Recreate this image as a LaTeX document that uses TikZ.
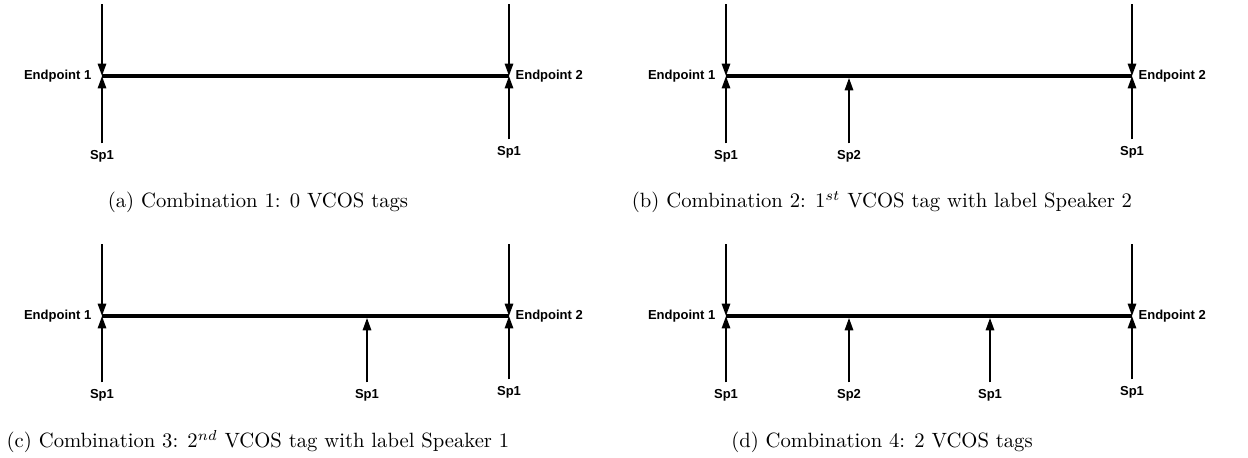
\documentclass[tikz,border=0pt]{standalone}
\usepackage{fontspec}
\newfontfamily\arialfont{Liberation Sans}
\usetikzlibrary{arrows.meta, positioning}

\begin{document}
\begin{tikzpicture}[
        x=0.484pt, y=-0.484pt,
        eplabel/.style={font=\arialfont\bfseries\fontsize{6.3}{7}\selectfont, inner sep=1pt},
        splabel/.style={font=\arialfont\bfseries\fontsize{6.3}{7}\selectfont, inner sep=3pt},
        timeline/.style={line width=1.9pt},
        tag/.style={line width=1pt, -{Triangle[length=6pt, width=4pt]}},
        midtag/.style={tag, shorten >=0.9pt},
        caption/.style={anchor=base, inner sep=0pt}
    ]
    \useasboundingbox (0,0) rectangle (1248,457);

    % ---- (a) no VCOS tags ----
    \coordinate (a1) at (102,76);
    \coordinate (a2) at (509,76);
    \coordinate (a1top) at (102,4);
    \coordinate (a2top) at (509,4);
    \node[eplabel, left=4pt of a1] (a1lab) {Endpoint 1};
    \node[eplabel, right=2pt of a2] (a2lab) {Endpoint 2};
    \node[splabel] (asp1) at (102,156) {Sp1};
    \node[splabel] (asp2) at (509,152) {Sp1};
    \draw[timeline] (a1) -- (a2);
    \draw[tag] (a1top) -- (a1);
    \draw[tag] (a2top) -- (a2);
    \draw[tag] (asp1) -- (a1);
    \draw[tag] (asp2) -- (a2);
    \node[caption] (capa) at (258,207.5) {(a) Combination 1: 0 VCOS tags};

    % ---- (b) 1st tag, Speaker 2 ----
    \coordinate (b1) at (726,76);
    \coordinate (b2) at (1132,76);
    \coordinate (bm) at (849,76);
    \coordinate (b1top) at (726,4);
    \coordinate (b2top) at (1132,4);
    \node[eplabel, left=4pt of b1] (b1lab) {Endpoint 1};
    \node[eplabel, right=2pt of b2] (b2lab) {Endpoint 2};
    \node[splabel] (bsp1) at (726,156) {Sp1};
    \node[splabel] (bsp2) at (849,156) {Sp2};
    \node[splabel] (bsp3) at (1132,152) {Sp1};
    \draw[timeline] (b1) -- (b2);
    \draw[tag] (b1top) -- (b1);
    \draw[tag] (b2top) -- (b2);
    \draw[tag] (bsp1) -- (b1);
    \draw[midtag] (bsp2) -- (bm);
    \draw[tag] (bsp3) -- (b2);
    \node[caption] (capb) at (882,207.5) {(b) Combination 2: $1^{st}$ VCOS tag with label Speaker 2};

    % ---- (c) 2nd tag, Speaker 1 ----
    \coordinate (c1) at (102,316);
    \coordinate (c2) at (509,316);
    \coordinate (cm) at (367,316);
    \coordinate (c1top) at (102,244);
    \coordinate (c2top) at (509,244);
    \node[eplabel, left=4pt of c1] (c1lab) {Endpoint 1};
    \node[eplabel, right=2pt of c2] (c2lab) {Endpoint 2};
    \node[splabel] (csp1) at (102,395) {Sp1};
    \node[splabel] (csp2) at (367,395) {Sp1};
    \node[splabel] (csp3) at (509,392) {Sp1};
    \draw[timeline] (c1) -- (c2);
    \draw[tag] (c1top) -- (c1);
    \draw[tag] (c2top) -- (c2);
    \draw[tag] (csp1) -- (c1);
    \draw[midtag] (csp2) -- (cm);
    \draw[tag] (csp3) -- (c2);
    \node[caption] (capc) at (258,447.5) {(c) Combination 3: $2^{nd}$ VCOS tag with label Speaker 1};

    % ---- (d) both tags ----
    \coordinate (d1) at (726,316);
    \coordinate (d2) at (1132,316);
    \coordinate (dm1) at (849,316);
    \coordinate (dm2) at (990,316);
    \coordinate (d1top) at (726,244);
    \coordinate (d2top) at (1132,244);
    \node[eplabel, left=4pt of d1] (d1lab) {Endpoint 1};
    \node[eplabel, right=2pt of d2] (d2lab) {Endpoint 2};
    \node[splabel] (dsp1) at (726,395) {Sp1};
    \node[splabel] (dsp2) at (849,395) {Sp2};
    \node[splabel] (dsp3) at (990,395) {Sp1};
    \node[splabel] (dsp4) at (1132,392) {Sp1};
    \draw[timeline] (d1) -- (d2);
    \draw[tag] (d1top) -- (d1);
    \draw[tag] (d2top) -- (d2);
    \draw[tag] (dsp1) -- (d1);
    \draw[midtag] (dsp2) -- (dm1);
    \draw[midtag] (dsp3) -- (dm2);
    \draw[tag] (dsp4) -- (d2);
    \node[caption] (capd) at (882,447.5) {(d) Combination 4: 2 VCOS tags};

\end{tikzpicture}
\end{document}
